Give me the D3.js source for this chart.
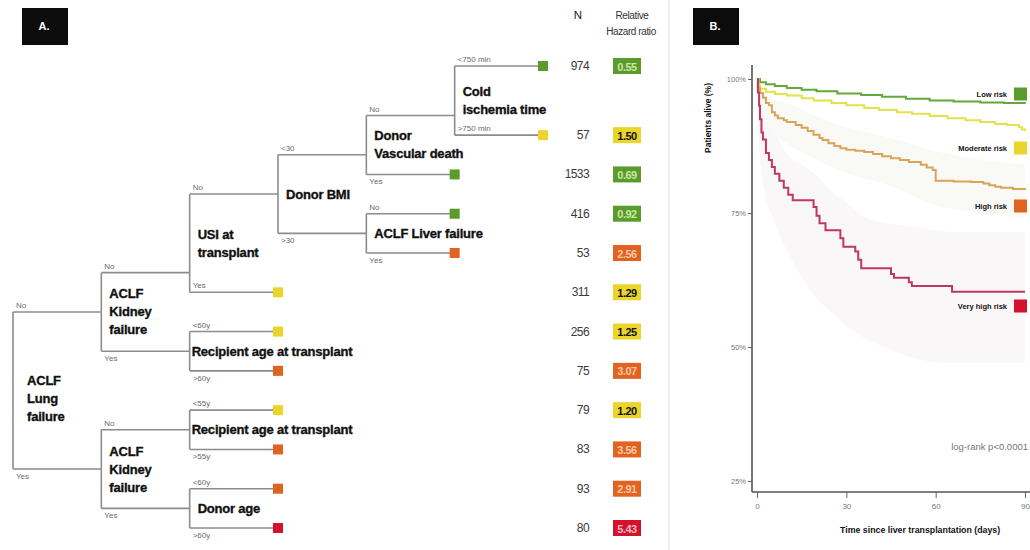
<!DOCTYPE html>
<html>
<head>
<meta charset="utf-8">
<script src="https://cdn.jsdelivr.net/npm/d3@7"></script>
<style>
  html, body { margin: 0; padding: 0; background: #fff; }
  svg { display: block; font-family: "Liberation Sans", Arial, sans-serif; }
</style>
</head>
<body>
<svg id="chart" width="1030" height="550"></svg>
<script>
// ---------- Panel A: survival tree ----------
const leafN    = [974, 57, 1533, 416, 53, 311, 256, 75, 79, 83, 93, 80];
const leafHR   = ["0.55", "1.50", "0.69", "0.92", "2.56", "1.29", "1.25", "3.07", "1.20", "3.56", "2.91", "5.43"];
const leafRisk = ["low", "moderate", "low", "low", "high", "moderate", "moderate", "high", "moderate", "high", "high", "veryhigh"];

const riskNames  = ["low", "moderate", "high", "veryhigh"];
const riskLabels = ["Low risk", "Moderate risk", "High risk", "Very high risk"];
const riskFill   = ["#5a9b2c", "#ecd52a", "#e2621f", "#d4122e"];
const riskLine   = ["#62a83a", "#e2e24c", "#dba35a", "#c0375f"];
const hrTextFill = ["#c9e7a4", "#111111", "#f7c9a6", "#f5b6c0"];

// split tree: each node has its question lines, each branch the answer
const tree = {
  label: ["ACLF", "Lung", "failure"],
  children: [
    { edge: "No", label: ["ACLF", "Kidney", "failure"], children: [
      { edge: "No", label: ["USI at", "transplant"], children: [
        { edge: "No", label: ["Donor BMI"], children: [
          { edge: "<30", label: ["Donor", "Vascular death"], children: [
            { edge: "No", label: ["Cold", "ischemia time"], children: [
              { edge: "<750 min" },
              { edge: ">750 min" }
            ]},
            { edge: "Yes" }
          ]},
          { edge: ">30", label: ["ACLF Liver failure"], children: [
            { edge: "No" },
            { edge: "Yes" }
          ]}
        ]},
        { edge: "Yes" }
      ]},
      { edge: "Yes", label: ["Recipient age at transplant"], children: [
        { edge: "<60y" },
        { edge: ">60y" }
      ]}
    ]},
    { edge: "Yes", label: ["ACLF", "Kidney", "failure"], children: [
      { edge: "No", label: ["Recipient age at transplant"], children: [
        { edge: "<55y" },
        { edge: ">55y" }
      ]},
      { edge: "Yes", label: ["Donor age"], children: [
        { edge: "<60y" },
        { edge: ">60y" }
      ]}
    ]}
  ]
};

// ---------- Panel B: Kaplan-Meier curves (day, % alive) ----------
const lowRisk = [[0,100],[1,99.4],[3,99.0],[6,98.7],[10,98.3],[15,98.0],[20,97.7],[27,97.3],[35,97.0],[42,96.7],[50,96.3],[58,96.0],[66,95.8],[75,95.6],[83,95.5],[90,95.4]];
const moderateRisk = [[0,100],[0.5,98.8],[1,98.2],[3,97.6],[6,97.2],[10,96.9],[15,96.4],[19,96.0],[25,95.5],[30,95.1],[36,94.6],[41,94.2],[47,93.8],[52,93.5],[58,93.1],[64,92.7],[70,92.3],[75,92.0],[80,91.6],[84,91.4],[88,91.0],[89,90.6],[90,90.3]];
const highRisk = [[0,100],[0.5,98.3],[1,97.4],[2,96.5],[3,95.5],[4,95.1],[5,93.8],[6,93.2],[7,92.7],[9,92.3],[10,92.0],[13,91.4],[15,90.9],[17,90.3],[19,89.6],[21,89.0],[22,88.6],[24,88.0],[26,87.5],[28,87.1],[30,86.8],[33,86.6],[36,86.4],[39,86.0],[42,85.6],[45,85.2],[48,84.9],[51,84.5],[55,84.0],[57,83.5],[59,83.0],[60,81.0],[66,80.9],[72,80.8],[76,80.5],[78,80.2],[80,79.9],[82,79.7],[86,79.5],[90,79.3]];
const veryHighRisk = [[0,100],[0.3,97.5],[0.7,95.0],[1,92.5],[1.5,90.0],[2,88.7],[3,86.2],[4,84.9],[5,83.6],[6,82.3],[7.5,81.0],[9,79.7],[10.5,78.4],[12,77.4],[19,76.1],[20,74.5],[21,73.1],[23,71.8],[28,70.3],[29,68.7],[33,67.8],[34,66.3],[35,64.7],[45,63.6],[46,62.9],[51,62.1],[52,61.4],[65.5,60.3],[90,60.3]];

// faint confidence bands (day, lower %, upper %)
const highRiskBand = [[0,100,100],[5,90.5,96.5],[10,88,95.5],[20,85,93],[30,82.5,91],[45,80,89],[60,76.5,86.5],[75,75,85],[90,74,84]];
const veryHighRiskBand = [[0,100,100],[1,85,97],[3,78,93],[6,73,90],[10,68,86],[15,63,84],[20,59,82],[25,56.5,79],[30,54,77],[35,52,74.5],[45,49.5,73],[52,48,72.5],[65,47,71.5],[90,47,71.5]];

const xTicks = [0, 30, 60, 90];
const yTicks = [25, 50, 75, 100];

const svg = d3.select("#chart");

// faint divider between the two panels
svg.append("line").attr("x1", 669).attr("x2", 669).attr("y1", 0).attr("y2", 550)
  .attr("stroke", "#efefef").attr("stroke-width", 2);

// panel tags
function panelTag(x, text) {
  svg.append("rect").attr("x", x).attr("y", 8).attr("width", 46).attr("height", 37).attr("fill", "#0c0c0c");
  svg.append("text").attr("x", x + 22).attr("y", 30).attr("text-anchor", "middle")
    .attr("fill", "#fff").attr("font-size", 11).attr("font-weight", "bold").text(text);
}
panelTag(22, "A.");
panelTag(693, "B.");

// ----- tree layout -----
const gA = svg.append("g");
const root = d3.hierarchy(tree, d => d.children);
const xDepth = d3.scaleLinear().domain([0, 6]).range([13, 543]);
const extraGap = 0.76; // room for the ischemia-time question below the first leaf
const yRow = d3.scaleLinear().domain([0, leafN.length - 1 + extraGap]).range([66, 528]);
const rowStep = yRow(1) - yRow(0);

let k = 0;
root.eachBefore(d => {
  d.x = xDepth(d.depth);
  if (!d.children) {
    d.leaf = k;
    d.y = yRow(k + (k > 0 ? extraGap : 0));
    k++;
  }
});
root.eachAfter(d => {
  if (d.children) {
    const first = d.children[0], last = d.children[d.children.length - 1];
    d.top = first.y;
    d.bottom = last.y;
    d.mid = (first.y + last.y) / 2;
    d.y = last.children ? d.mid : last.y - rowStep / 2;
  }
});

const internal = root.descendants().filter(d => d.children);
const insideLast = new Set(["USI at", "Cold"]);

// brackets
internal.forEach(d => {
  const p = d3.path();
  p.moveTo(d.x, d.top);
  p.lineTo(d.x, d.bottom);
  d.children.forEach(c => { p.moveTo(d.x, c.y); p.lineTo(c.x, c.y); });
  gA.append("path").attr("d", p.toString()).attr("fill", "none")
    .attr("stroke", "#8c8c8c").attr("stroke-width", 1.6);

  // branch answers
  d.children.forEach((c, i) => {
    const isFirst = i === 0;
    const above = isFirst || insideLast.has(d.data.label[0]);
    gA.append("text").attr("x", d.x + 3).attr("y", above ? c.y - 4 : c.y + 10)
      .attr("font-size", 8).attr("fill", "#6a6a6a").text(c.data.edge);
  });
});

// question labels
const labelDx = d => d.depth === 0 ? 14 : (d.data.label[0].length > 20 ? 2 : 8);
internal.forEach(d => {
  const lines = d.data.label;
  const lh = 18;
  const y0 = d.mid - (lines.length - 1) * lh / 2 + (d.depth === 0 ? 8 : 0);
  const t = gA.append("text").attr("font-size", 13).attr("font-weight", "bold")
    .attr("fill", "#111").attr("stroke", "#111").attr("stroke-width", 0.35)
    .attr("letter-spacing", -0.2);
  lines.forEach((s, i) => {
    t.append("tspan").attr("x", d.x + labelDx(d)).attr("y", y0 + i * lh)
      .attr("dominant-baseline", "central").text(s);
  });
});

// leaves
const leaves = root.leaves();
const colorOf = r => riskFill[riskNames.indexOf(r)];
gA.selectAll("rect.leaf").data(leaves).join("rect").attr("class", "leaf")
  .attr("x", d => d.x - 5).attr("y", d => d.y - 5).attr("width", 10).attr("height", 10)
  .attr("fill", d => colorOf(leafRisk[d.leaf]));

// N and hazard ratio columns
gA.append("text").attr("x", 578).attr("y", 19).attr("text-anchor", "middle")
  .attr("font-size", 11.5).attr("fill", "#222").text("N");
gA.append("text").attr("x", 632).attr("y", 19).attr("text-anchor", "middle")
  .attr("font-size", 10).attr("fill", "#333").attr("letter-spacing", -0.4).text("Relative");
gA.append("text").attr("x", 631).attr("y", 35).attr("text-anchor", "middle")
  .attr("font-size", 10).attr("fill", "#333").attr("letter-spacing", -0.4).text("Hazard ratio");

gA.selectAll("text.n").data(leaves).join("text").attr("class", "n")
  .attr("x", 589).attr("y", d => d.y).attr("dominant-baseline", "central")
  .attr("text-anchor", "end").attr("font-size", 12).attr("fill", "#3a3a3a")
  .attr("letter-spacing", -0.6).text(d => leafN[d.leaf]);

gA.selectAll("rect.hr").data(leaves).join("rect").attr("class", "hr")
  .attr("x", 613).attr("y", d => d.y - 8).attr("width", 28).attr("height", 16)
  .attr("fill", d => colorOf(leafRisk[d.leaf]));
gA.selectAll("text.hr").data(leaves).join("text").attr("class", "hr")
  .attr("x", 627).attr("y", d => d.y + 0.5).attr("dominant-baseline", "central")
  .attr("text-anchor", "middle").attr("font-size", 11).attr("font-weight", "bold")
  .attr("letter-spacing", -0.5)
  .attr("fill", d => hrTextFill[riskNames.indexOf(leafRisk[d.leaf])])
  .text(d => leafHR[d.leaf]);

// ----- Kaplan-Meier panel -----
const gB = svg.append("g");
const x = d3.scaleLinear().domain([0, 90]).range([757, 1025]);
const y = d3.scaleLinear().domain([25, 100]).range([481, 79]);

const band = d3.area().x(d => x(d[0])).y0(d => y(d[1])).y1(d => y(d[2])).curve(d3.curveMonotoneX);
gB.append("path").datum(veryHighRiskBand).attr("d", band).attr("fill", "#f9f7f8");
gB.append("path").datum(highRiskBand).attr("d", band).attr("fill", "#f9f9f6");

// axes
const yAxis = d3.axisLeft(y).tickValues(yTicks).tickFormat(d => d + "%").tickSize(4).tickPadding(2);
const gy = gB.append("g").attr("transform", "translate(752,0)").call(yAxis);
gy.select(".domain").remove();
gy.selectAll(".tick line").attr("stroke", "#666");
gy.selectAll(".tick text").attr("font-size", 7.5).attr("fill", "#777").attr("font-family", "Liberation Sans, Arial, sans-serif");

const xAxis = d3.axisBottom(x).tickValues(xTicks).tickSize(6).tickPadding(5);
const gx = gB.append("g").attr("transform", "translate(0,492)").call(xAxis);
gx.select(".domain").remove();
gx.selectAll(".tick line").attr("stroke", "#666");
gx.selectAll(".tick text").attr("font-size", 8).attr("fill", "#777").attr("font-family", "Liberation Sans, Arial, sans-serif");

gB.append("line").attr("x1", 752).attr("x2", 752).attr("y1", 65).attr("y2", 492)
  .attr("stroke", "#555").attr("stroke-width", 1.6);
gB.append("line").attr("x1", 752).attr("x2", 1030).attr("y1", 492).attr("y2", 492)
  .attr("stroke", "#555").attr("stroke-width", 1.6);

// survival curves
const line = d3.line().x(d => x(d[0])).y(d => y(d[1])).curve(d3.curveStepAfter);
const curves = [lowRisk, moderateRisk, highRisk, veryHighRisk];
gB.selectAll("path.km").data(curves).join("path").attr("class", "km")
  .attr("d", line).attr("fill", "none")
  .attr("stroke", (d, i) => riskLine[i]).attr("stroke-width", 2);

// group keys at the right edge
const keyY = [94, 148, 206, 306];
riskLabels.forEach((s, i) => {
  gB.append("text").attr("x", 1007).attr("y", keyY[i]).attr("text-anchor", "end")
    .attr("dominant-baseline", "central").attr("font-size", 7.5).attr("font-weight", "bold")
    .attr("fill", "#111").text(s);
  gB.append("rect").attr("x", 1014).attr("y", keyY[i] - 6.5).attr("width", 13).attr("height", 13)
    .attr("fill", riskFill[i]);
});

gB.append("text").attr("x", 1028).attr("y", 446).attr("text-anchor", "end")
  .attr("dominant-baseline", "central").attr("font-size", 9.5).attr("fill", "#777")
  .text("log-rank p<0.0001");

gB.append("text").attr("transform", "translate(708,118) rotate(-90)").attr("text-anchor", "middle")
  .attr("dominant-baseline", "central").attr("font-size", 8.5).attr("font-weight", "bold")
  .attr("fill", "#111").text("Patients alive (%)");

gB.append("text").attr("x", 840).attr("y", 530).attr("dominant-baseline", "central")
  .attr("font-size", 8.8).attr("font-weight", "bold").attr("fill", "#111")
  .text("Time since liver transplantation (days)");
</script>
</body>
</html>
